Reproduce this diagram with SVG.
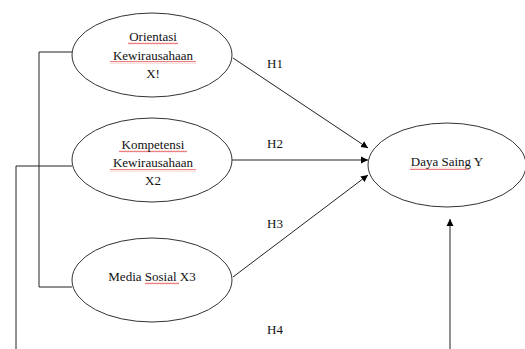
<svg xmlns="http://www.w3.org/2000/svg" width="525" height="349" viewBox="0 0 525 349">
<defs>
<marker id="ah" markerWidth="8" markerHeight="8" refX="7" refY="4" orient="auto" markerUnits="userSpaceOnUse">
<path d="M0,0.5 L7,4 L0,7.5 Z" fill="#000"/>
</marker>
<pattern id="wave" width="3" height="3" patternUnits="userSpaceOnUse">
<path d="M0,2.2 L0.75,0.8 L1.5,2.2 L2.25,0.8 L3,2.2" fill="none" stroke="#e03030" stroke-width="0.6"/>
</pattern>
</defs>
<style>
.node ellipse{fill:#fff;stroke:#333;stroke-width:1}
text{font-family:'Liberation Serif','Times New Roman','DejaVu Serif',serif;font-size:13px;fill:#111}
.c{text-anchor:middle}
.conn line,.conn polyline{fill:none;stroke:#222;stroke-width:1}
.sq{fill:url(#wave)}
</style>
<rect width="525" height="349" fill="#fff"/>
<g id="connectors" class="conn">
<polyline points="72,52 39,52 39,287 72,287"/>
<polyline points="72,166 16,166 16,349"/>
<line x1="450" y1="349" x2="450" y2="219" marker-end="url(#ah)"/>
<line x1="233" y1="58" x2="368" y2="148" marker-end="url(#ah)"/>
<line x1="232" y1="160" x2="368" y2="160" marker-end="url(#ah)"/>
<line x1="233" y1="277" x2="368" y2="175" marker-end="url(#ah)"/>
<text x="267" y="68" font-family="Liberation Serif, serif">H1</text>
<text x="267" y="148" font-family="Liberation Serif, serif">H2</text>
<text x="267" y="228" font-family="Liberation Serif, serif">H3</text>
<text x="267" y="334" font-family="Liberation Serif, serif">H4</text>
</g>
<g id="x1" class="node">
<ellipse cx="152" cy="55" rx="80" ry="42"/>
<rect class="sq" x="128" y="42" width="50" height="3"/>
<rect class="sq" x="110" y="61" width="86" height="3"/>
<text class="c" x="153" y="41">Orientasi</text>
<text class="c" x="153" y="60">Kewirausahaan</text>
<text class="c" x="153" y="78">X!</text>
</g>
<g id="x2" class="node">
<ellipse cx="152" cy="160" rx="80" ry="42"/>
<rect class="sq" x="119" y="150" width="68" height="3"/>
<rect class="sq" x="110" y="169" width="86" height="3"/>
<text class="c" x="153" y="149">Kompetensi</text>
<text class="c" x="153" y="167">Kewirausahaan</text>
<text class="c" x="153" y="185">X2</text>
</g>
<g id="x3" class="node">
<ellipse cx="152" cy="280" rx="80" ry="42"/>
<rect class="sq" x="145" y="282" width="34" height="3"/>
<text class="c" x="152" y="281">Media Sosial X3</text>
</g>
<g id="y" class="node">
<ellipse cx="447" cy="165" rx="79" ry="42"/>
<rect class="sq" x="410" y="167" width="59" height="3"/>
<text class="c" x="447" y="166">Daya Saing Y</text>
</g>
</svg>
